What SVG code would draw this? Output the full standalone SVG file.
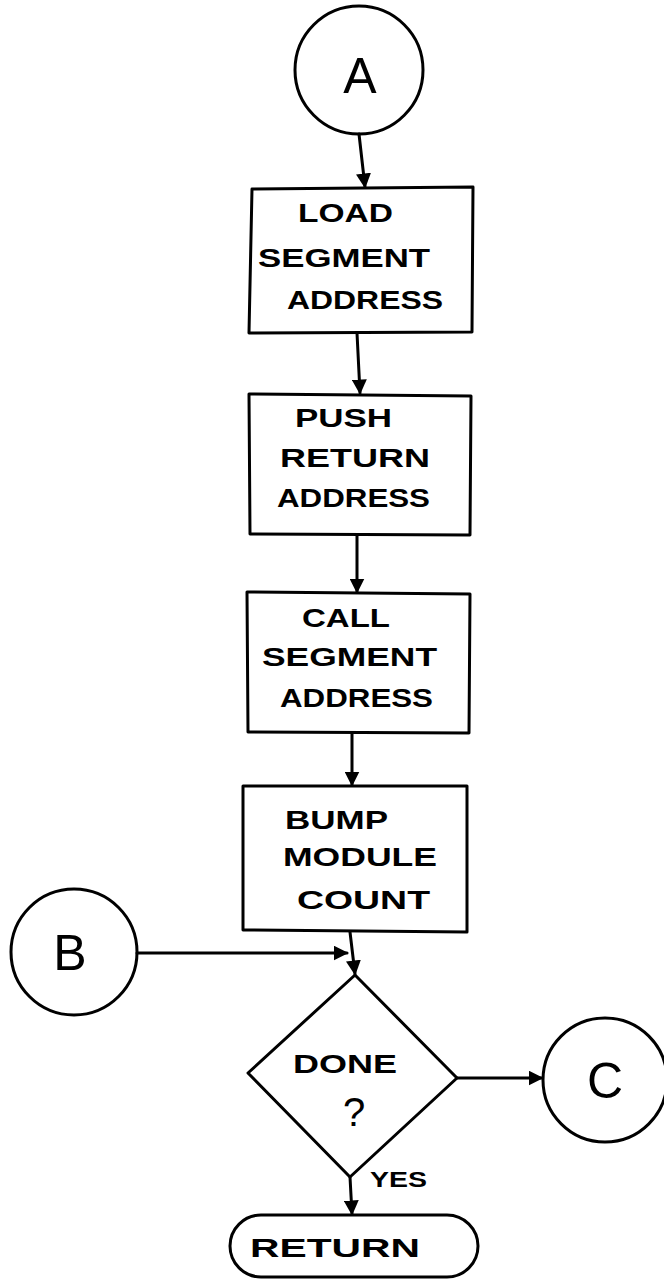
<svg xmlns="http://www.w3.org/2000/svg" width="664" height="1281" viewBox="0 0 664 1281">
<style>
.s{fill:none;stroke:#000;stroke-width:3;stroke-linejoin:round;stroke-linecap:round}
.t{font-family:"Liberation Sans",Arial,sans-serif;font-weight:bold;font-size:25px;fill:#000}
.big{font-family:"Liberation Sans",Arial,sans-serif;font-size:50px;fill:#000}
.c{stroke:#000;stroke-width:3;fill:none;stroke-linecap:round;marker-end:url(#ah)}
</style>
<defs>
<marker id="ah" viewBox="0 0 10 10" refX="9" refY="5" markerWidth="5" markerHeight="5" orient="auto" markerUnits="strokeWidth">
<path d="M0,0 L10,5 L0,10 z" fill="#000"/>
</marker>
</defs>
<rect width="664" height="1281" fill="#fff"/>
<g id="nodeA">
<circle class="s" cx="359" cy="70" r="64"/>
<text class="big" x="360" y="93" text-anchor="middle">A</text>
</g>
<g id="load">
<path class="s" d="M252,189 L473,187 L472,332 L249,333 Z"/>
<text class="t" x="298" y="222" textLength="95" lengthAdjust="spacingAndGlyphs">LOAD</text>
<text class="t" x="258" y="267" textLength="172" lengthAdjust="spacingAndGlyphs">SEGMENT</text>
<text class="t" x="287" y="309" textLength="156" lengthAdjust="spacingAndGlyphs">ADDRESS</text>
</g>
<g id="push">
<path class="s" d="M249,394 L471,396 L470,535 L250,534 Z"/>
<text class="t" x="295" y="427" textLength="97" lengthAdjust="spacingAndGlyphs">PUSH</text>
<text class="t" x="280" y="467" textLength="150" lengthAdjust="spacingAndGlyphs">RETURN</text>
<text class="t" x="277" y="507" textLength="153" lengthAdjust="spacingAndGlyphs">ADDRESS</text>
</g>
<g id="call">
<path class="s" d="M247,592 L470,594 L469,733 L248,732 Z"/>
<text class="t" x="302" y="627" textLength="88" lengthAdjust="spacingAndGlyphs">CALL</text>
<text class="t" x="262" y="666" textLength="175" lengthAdjust="spacingAndGlyphs">SEGMENT</text>
<text class="t" x="280" y="707" textLength="153" lengthAdjust="spacingAndGlyphs">ADDRESS</text>
</g>
<g id="bump">
<path class="s" d="M243,786 L467,786 L467,932 L243,930 Z"/>
<text class="t" x="285" y="829" textLength="103" lengthAdjust="spacingAndGlyphs">BUMP</text>
<text class="t" x="283" y="866" textLength="154" lengthAdjust="spacingAndGlyphs">MODULE</text>
<text class="t" x="297" y="909" textLength="133" lengthAdjust="spacingAndGlyphs">COUNT</text>
</g>
<g id="nodeB">
<circle class="s" cx="74" cy="952" r="63"/>
<text class="big" x="70" y="970" text-anchor="middle">B</text>
</g>
<g id="done">
<path class="s" d="M355,975 L457,1078 L350,1177 L248,1073 Z"/>
<text class="t" x="293" y="1073" textLength="104" lengthAdjust="spacingAndGlyphs">DONE</text>
<text class="t" x="343" y="1126" style="font-size:40px;font-weight:normal">?</text>
</g>
<g id="nodeC">
<circle class="s" cx="605" cy="1080" r="62"/>
<text class="big" x="605" y="1098" text-anchor="middle">C</text>
</g>
<g id="return">
<rect class="s" x="230" y="1215" width="248" height="62" rx="31"/>
<text class="t" x="250" y="1257" textLength="170" lengthAdjust="spacingAndGlyphs">RETURN</text>
</g>
<g id="connectors">
<line class="c" x1="359" y1="134" x2="365" y2="187"/>
<line class="c" x1="357" y1="333" x2="360" y2="393"/>
<line class="c" x1="357" y1="535" x2="357" y2="592"/>
<line class="c" x1="352" y1="733" x2="352" y2="785"/>
<line class="c" x1="350" y1="932" x2="355" y2="974"/>
<line class="c" x1="137" y1="953" x2="347" y2="953"/>
<line class="c" x1="457" y1="1078" x2="542" y2="1078"/>
<line class="c" x1="350" y1="1177" x2="352" y2="1214"/>
<text class="t" x="370" y="1187" textLength="57" lengthAdjust="spacingAndGlyphs" style="font-size:22px">YES</text>
</g>
</svg>
